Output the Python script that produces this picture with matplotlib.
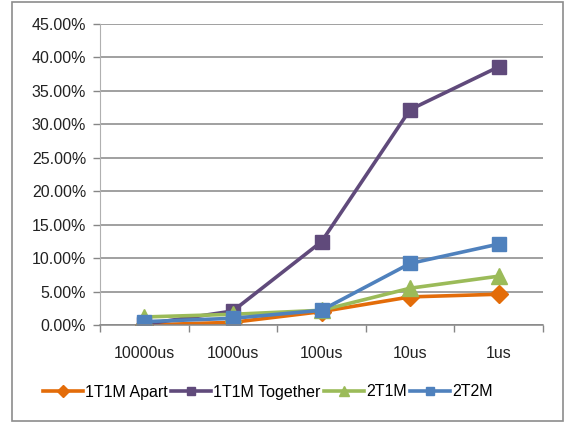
import matplotlib
matplotlib.use("Agg")
import matplotlib.pyplot as plt
from matplotlib.patches import Rectangle
from matplotlib.ticker import FuncFormatter

categories = ["10000us", "1000us", "100us", "10us", "1us"]
apart = [0.0, 0.4, 2.0, 4.2, 4.6]
together = [0.1, 2.1, 12.45, 32.2, 38.6]
t2m1 = [1.2, 1.6, 2.2, 5.5, 7.3]
t2m2 = [0.5, 1.0, 2.2, 9.2, 12.1]
series_names = ["1T1M Apart", "1T1M Together", "2T1M", "2T2M"]

plt.rcParams["font.family"] = ["Liberation Sans", "DejaVu Sans"]

fig = plt.figure(figsize=(5.66, 4.25), dpi=100)
ax = fig.add_axes([100 / 566, 1 - 325 / 425, 443 / 566, 301 / 425])

# outer chart border
fig.patches.append(Rectangle((12 / 566, 4 / 425), 551 / 566, 419 / 425,
                             transform=fig.transFigure, fill=False,
                             edgecolor="#8c8c8c", linewidth=1.2))

x = list(range(len(categories)))
styles = [
    (apart, "#E36C09", "D", 9.5),
    (together, "#604A7B", "s", 10.5),
    (t2m1, "#9BBB59", "^", 11),
    (t2m2, "#4F81BD", "s", 10.5),
]
for (vals, col, mk, ms), name in zip(styles, series_names):
    ax.plot(x, vals, color=col, linewidth=2.6, marker=mk, markersize=ms,
            markeredgecolor=col, markerfacecolor=col, label=name)

ax.set_xlim(-0.5, len(categories) - 0.5)
ax.set_ylim(0, 45)
ax.set_yticks([i * 5 for i in range(10)])
ax.yaxis.set_major_formatter(FuncFormatter(lambda v, p: f"{v:.2f}%"))
ax.set_xticks(x)
ax.set_xticklabels(categories)
ax.set_xticks([i - 0.5 for i in range(len(categories) + 1)], minor=True)
ax.tick_params(axis="x", which="major", length=0, pad=15, labelsize=11.5,
               colors="#222222")
ax.tick_params(axis="x", which="minor", length=5, color="#868686", width=1)
ax.tick_params(axis="y", length=5, color="#868686", width=1, labelsize=11.5,
               colors="#222222", pad=5)

ax.grid(axis="y", color="#868686", linewidth=1.1)
ax.set_axisbelow(True)
for s in ["top", "right"]:
    ax.spines[s].set_visible(False)
ax.spines["left"].set_color("#b0b0b0")
ax.spines["bottom"].set_color("#868686")
ax.spines["bottom"].set_linewidth(1.1)

fig.legend(loc="center", bbox_to_anchor=(268 / 566, 1 - 392 / 425), ncol=4,
           frameon=False, fontsize=11.5, handlelength=2.5, handletextpad=0.15,
           columnspacing=0.2, borderaxespad=0, markerscale=0.6)

fig.savefig("out.png", dpi=100)
